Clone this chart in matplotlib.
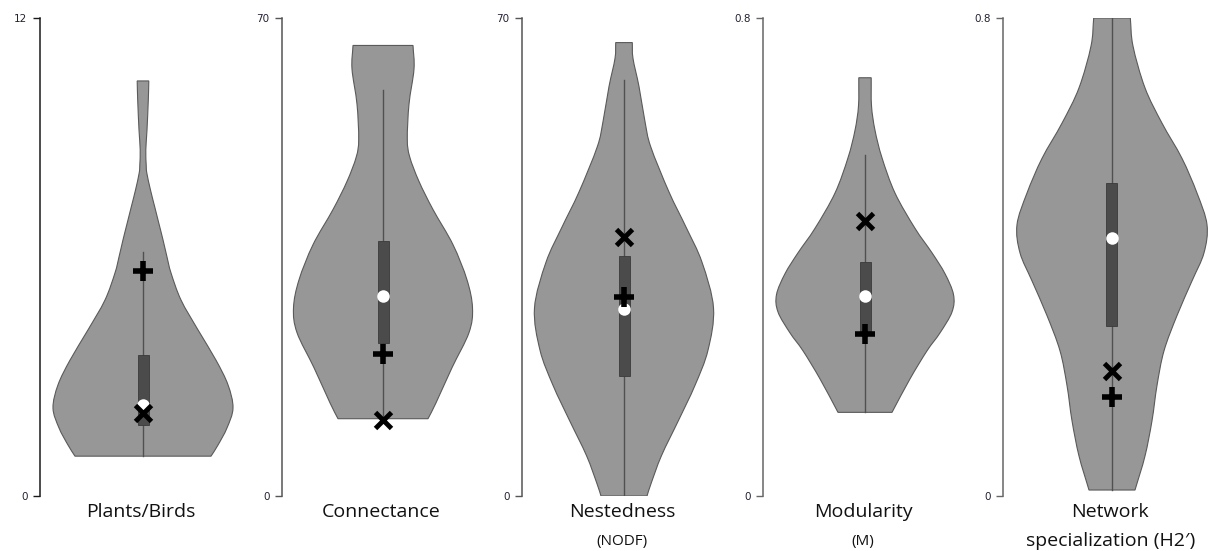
import numpy as np
import matplotlib.pyplot as plt
from matplotlib.patches import Rectangle, PathPatch
from matplotlib.path import Path

# violin outlines: value levels and half widths (x units, 1 unit = 100 px)
pb_y = [10.42, 9.94, 9.19, 8.69, 8.31, 8.11, 7.68, 7.26, 6.85, 6.43, 6.00, 5.60, 4.92, 4.17, 3.41, 2.79, 2.21, 1.71, 1.28, 1.00]
pb_w = [0.058, 0.053, 0.040, 0.028, 0.032, 0.038, 0.075, 0.117, 0.158, 0.20, 0.24, 0.28, 0.38, 0.55, 0.73, 0.85, 0.90, 0.84, 0.75, 0.68]

con_y = [65.98, 62.54, 57.39, 52.24, 49.67, 46.07, 41.95, 36.80, 31.65, 27.54, 23.93, 18.79, 13.64, 11.32]
con_w = [0.30, 0.31, 0.26, 0.243, 0.267, 0.36, 0.50, 0.70, 0.84, 0.895, 0.86, 0.69, 0.53, 0.45]

nes_y = [66.40, 64.08, 59.96, 54.82, 51.15, 44.52, 39.38, 34.23, 27.54, 21.36, 16.21, 11.07, 5.92, 1.80, 0.0]
nes_w = [0.083, 0.09, 0.15, 0.21, 0.267, 0.45, 0.62, 0.78, 0.895, 0.84, 0.71, 0.545, 0.375, 0.27, 0.23]

mod_y = [0.700, 0.653, 0.612, 0.566, 0.507, 0.448, 0.407, 0.372, 0.337, 0.308, 0.273, 0.243, 0.196, 0.140]
mod_w = [0.062, 0.065, 0.10, 0.17, 0.30, 0.50, 0.67, 0.80, 0.885, 0.87, 0.75, 0.62, 0.45, 0.27]

h2_y = [0.800, 0.753, 0.683, 0.624, 0.565, 0.507, 0.454, 0.407, 0.360, 0.302, 0.243, 0.185, 0.126, 0.067, 0.010]
h2_w = [0.183, 0.21, 0.33, 0.50, 0.70, 0.85, 0.95, 0.92, 0.80, 0.65, 0.52, 0.45, 0.40, 0.33, 0.23]

# box (q1, q3), whisker range, median, plus and cross markers
q1 = [1.79, 22.39, 17.60, 0.275, 0.284]
q3 = [3.53, 37.32, 35.10, 0.391, 0.524]
wlo = [1.01, 11.32, 0.0, 0.140, 0.010]
whi = [6.13, 59.45, 60.99, 0.571, 0.800]
median = [2.29, 29.24, 27.38, 0.335, 0.431]
plus = [5.65, 20.85, 29.18, 0.271, 0.165]
cross = [2.09, 11.07, 37.99, 0.460, 0.209]

ymax = [12, 70, 70, 0.8, 0.8]
ytick_labels = [["0", "12"], ["0", "70"], ["0", "70"], ["0", "0.8"], ["0", "0.8"]]
titles = ["Plants/Birds", "Connectance", "Nestedness", "Modularity", "Network"]
subtitles = ["", "", "(NODF)", "(M)", "specialization (H2\u2032)"]

outlines = [(pb_y, pb_w), (con_y, con_w), (nes_y, nes_w), (mod_y, mod_w), (h2_y, h2_w)]


def smooth_side(pts):
    # Catmull-Rom through the outline points, as cubic bezier segments
    n = len(pts)
    tang = np.zeros_like(pts)
    tang[1:-1] = (pts[2:] - pts[:-2]) / 2
    tang[0] = pts[1] - pts[0]
    tang[-1] = pts[-1] - pts[-2]
    verts = []
    for i in range(n - 1):
        verts += [pts[i] + tang[i] / 3, pts[i + 1] - tang[i + 1] / 3, pts[i + 1]]
    return verts


def violin_patch(ys, ws):
    ys = np.asarray(ys, float)
    ws = np.asarray(ws, float)
    right = np.column_stack([ws, ys])
    left = np.column_stack([-ws, ys])[::-1]
    verts = [left[-1], right[0]]
    codes = [Path.MOVETO, Path.LINETO]
    seg = smooth_side(right)
    verts += seg
    codes += [Path.CURVE4] * len(seg)
    verts.append(left[0])
    codes.append(Path.LINETO)
    seg = smooth_side(left)
    verts += seg
    codes += [Path.CURVE4] * len(seg)
    verts.append(left[-1])
    codes.append(Path.CLOSEPOLY)
    return PathPatch(Path(verts, codes), facecolor="#979797", edgecolor="#5a5a5a",
                     linewidth=0.8, zorder=1)


W, H = 1209, 551
fig = plt.figure(figsize=(W / 100, H / 100), dpi=100)

spine_x = [40, 282, 522, 763, 1003]
center_x = [143, 383, 624, 865, 1112]
spine_col = ["#1a1a1a", "#555555", "#555555", "#666666", "#666666"]
ax_w = 205
top_px, bot_px = 18, 496

for i in range(5):
    ax = fig.add_axes([spine_x[i] / W, (H - bot_px) / H, ax_w / W, (bot_px - top_px) / H])
    off = (center_x[i] - spine_x[i]) / 100
    ax.set_xlim(-off, ax_w / 100 - off)
    ax.set_ylim(0, ymax[i])

    vy, vw = outlines[i]
    ax.add_patch(violin_patch(vy, vw))

    ax.plot([0, 0], [wlo[i], whi[i]], color="#505050", linewidth=1, zorder=2)
    ax.add_patch(Rectangle((-0.055, q1[i]), 0.11, q3[i] - q1[i],
                           facecolor="#4b4b4b", edgecolor="#3a3a3a", linewidth=0.6, zorder=3))
    ax.plot(0, median[i], "o", color="white", markersize=9, markeredgewidth=0, zorder=4)
    ax.plot(0, cross[i], "x", color="black", markersize=11, markeredgewidth=3.5, zorder=5)
    ax.plot(0, plus[i], "+", color="black", markersize=15, markeredgewidth=4, zorder=5)

    for s in ["top", "right", "bottom"]:
        ax.spines[s].set_visible(False)
    ax.spines["left"].set_color(spine_col[i])
    ax.spines["left"].set_linewidth(1.1)
    ax.set_xticks([])
    ax.set_yticks([0, ymax[i]])
    ax.set_yticklabels(ytick_labels[i], fontsize=7.5, family="DejaVu Sans", color="#222233")
    ax.tick_params(axis="y", length=5, width=1, color=spine_col[i], pad=4)

    fig.text(center_x[i] / W - 0.0015, 1 - 512 / H, titles[i], ha="center", va="center",
             fontsize=14, family="Open Sans", color="#111111")
    if subtitles[i]:
        size = 14 if i == 4 else 11
        fig.text(center_x[i] / W - 0.0015, 1 - 541 / H, subtitles[i], ha="center", va="center",
                 fontsize=size, family="Open Sans", color="#111111")

fig.savefig("out.png", dpi=100, facecolor="white")
